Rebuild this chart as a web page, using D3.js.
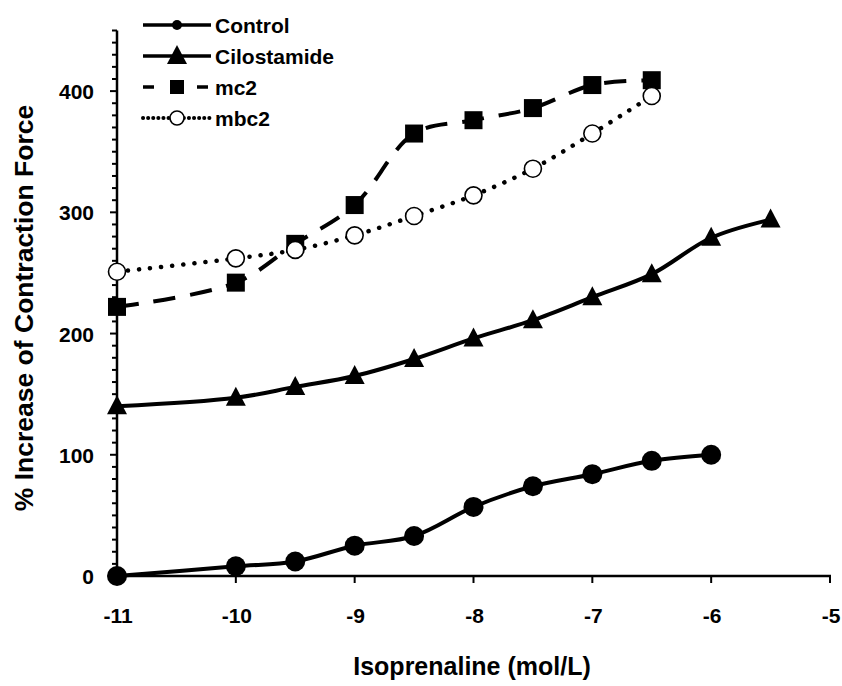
<!DOCTYPE html>
<html>
<head>
<meta charset="utf-8">
<script src="https://cdn.jsdelivr.net/npm/d3@7/dist/d3.min.js"></script>
<style>
  body { margin: 0; background: #fff; }
  text { font-family: "Liberation Sans", Arial, sans-serif; font-weight: bold; }
</style>
</head>
<body>
<div id="chart"></div>
<script>
var width = 842,
  height = 686;

// data
var xControl = [-11, -10, -9.5, -9, -8.5, -8, -7.5, -7, -6.5, -6];
var yControl = [0, 8, 12, 25, 33, 57, 74, 84, 95, 100];

var xCilo = [-11, -10, -9.5, -9, -8.5, -8, -7.5, -7, -6.5, -6, -5.5];
var yCilo = [140, 147, 156, 165, 179, 196, 211, 230, 249, 279, 294];

var xMc2 = [-11, -10, -9.5, -9, -8.5, -8, -7.5, -7, -6.5];
var yMc2 = [222, 242, 274, 306, 365, 376, 386, 405, 409];

var xMbc2 = [-11, -10, -9.5, -9, -8.5, -8, -7.5, -7, -6.5];
var yMbc2 = [251, 262, 269, 281, 297, 314, 336, 365, 396];

var seriesNames = ["Control", "Cilostamide", "mc2", "mbc2"];
var xTicks = [-11, -10, -9, -8, -7, -6, -5];
var yTicks = [0, 100, 200, 300, 400];

var series = [
  { name: seriesNames[0], xs: xControl, ys: yControl, marker: "circle", dash: null },
  { name: seriesNames[1], xs: xCilo, ys: yCilo, marker: "triangle", dash: null },
  { name: seriesNames[2], xs: xMc2, ys: yMc2, marker: "square", dash: "22,15" },
  { name: seriesNames[3], xs: xMbc2, ys: yMbc2, marker: "open", dash: "0.1,11" }
];

var svg = d3.select( "#chart" )
  .append( "svg" )
  .attr( "width", width )
  .attr( "height", height );

var x = d3.scaleLinear()
  .domain( [-11, -5] )
  .range( [117, 830] );

var y = d3.scaleLinear()
  .domain( [0, 450] )
  .range( [576, 30.5] );

// y axis with minor ticks every 10
var yAxisG = svg.append( "g" );
yAxisG.append( "line" )
  .attr( "x1", x(-11) ).attr( "x2", x(-11) )
  .attr( "y1", y(450) ).attr( "y2", y(0) )
  .attr( "stroke", "#000" ).attr( "stroke-width", 2.5 );
yAxisG.selectAll( ".minor" )
  .data( d3.range(0, 451, 10) )
  .enter()
  .append( "line" )
  .attr( "x1", x(-11) ).attr( "x2", function(d){ return d % 100 == 0 ? x(-11) - 7 : x(-11) - 5; } )
  .attr( "y1", function(d){ return y(d); } )
  .attr( "y2", function(d){ return y(d); } )
  .attr( "stroke", "#000" ).attr( "stroke-width", 2 );
yAxisG.selectAll( "text" )
  .data( yTicks )
  .enter()
  .append( "text" )
  .attr( "x", 94 )
  .attr( "y", function(d){ return y(d) + 8; } )
  .attr( "text-anchor", "end" )
  .attr( "font-size", 21 )
  .text( function(d){ return d; } );

// x axis
var xAxisG = svg.append( "g" );
xAxisG.append( "line" )
  .attr( "x1", x(-11) ).attr( "x2", x(-5) + 1 )
  .attr( "y1", y(0) ).attr( "y2", y(0) )
  .attr( "stroke", "#000" ).attr( "stroke-width", 2.5 );
xAxisG.selectAll( ".tick" )
  .data( xTicks )
  .enter()
  .append( "line" )
  .attr( "x1", function(d){ return x(d); } )
  .attr( "x2", function(d){ return x(d); } )
  .attr( "y1", y(0) ).attr( "y2", y(0) + 7 )
  .attr( "stroke", "#000" ).attr( "stroke-width", 2 );
xAxisG.selectAll( "text" )
  .data( xTicks )
  .enter()
  .append( "text" )
  .attr( "x", function(d){ return x(d) + 1; } )
  .attr( "y", 623 )
  .attr( "text-anchor", "middle" )
  .attr( "font-size", 21 )
  .text( function(d){ return d; } );

// axis titles
svg.append( "text" )
  .attr( "x", 472 ).attr( "y", 675 )
  .attr( "text-anchor", "middle" )
  .attr( "font-size", 25 )
  .text( "Isoprenaline (mol/L)" );
svg.append( "text" )
  .attr( "transform", "translate(33,308) rotate(-90)" )
  .attr( "text-anchor", "middle" )
  .attr( "font-size", 26.5 )
  .text( "% Increase of Contraction Force" );

var lineGen = d3.line()
  .x( function(d){ return x(d[0]); } )
  .y( function(d){ return y(d[1]); } )
  .curve( d3.curveCatmullRom.alpha(0.5) );

function drawMarker(g, type, cx, cy) {
  if (type == "circle") {
    g.append( "circle" ).attr( "cx", cx ).attr( "cy", cy ).attr( "r", 10 ).attr( "fill", "#000" );
  } else if (type == "open") {
    g.append( "circle" ).attr( "cx", cx ).attr( "cy", cy ).attr( "r", 8.5 )
      .attr( "fill", "#fff" ).attr( "stroke", "#000" ).attr( "stroke-width", 1.6 );
  } else if (type == "square") {
    g.append( "rect" ).attr( "x", cx - 9 ).attr( "y", cy - 9 ).attr( "width", 18 ).attr( "height", 18 ).attr( "fill", "#000" );
  } else if (type == "triangle") {
    g.append( "path" )
      .attr( "d", "M" + cx + "," + (cy - 11) + "L" + (cx + 10) + "," + (cy + 8) + "L" + (cx - 10) + "," + (cy + 8) + "Z" )
      .attr( "fill", "#000" );
  }
}

var plot = svg.append( "g" );
series.forEach( function(s){
  var pts = s.xs.map( function(v, i){ return [v, s.ys[i]]; } );
  var path = plot.append( "path" )
    .attr( "d", lineGen(pts) )
    .attr( "fill", "none" )
    .attr( "stroke", "#000" )
    .attr( "stroke-width", s.marker == "open" ? 4.5 : 4 );
  if (s.dash) path.attr( "stroke-dasharray", s.dash );
  if (s.marker == "open") path.attr( "stroke-linecap", "round" );
});
series.forEach( function(s){
  var g = plot.append( "g" );
  s.xs.forEach( function(v, i){ drawMarker(g, s.marker, x(v), y(s.ys[i])); } );
});

// legend
var legend = svg.append( "g" );
series.forEach( function(s, i){
  var ly = 25 + i * 31;
  var l = legend.append( "line" )
    .attr( "x1", 143 ).attr( "x2", 211 )
    .attr( "y1", ly ).attr( "y2", ly )
    .attr( "stroke", "#000" )
    .attr( "stroke-width", s.marker == "open" ? 4 : 3.5 );
  if (s.marker == "square") l.attr( "stroke-dasharray", "11,43,11" );
  if (s.marker == "open") l.attr( "stroke-dasharray", "0.1,5" ).attr( "stroke-linecap", "round" );
  var g = legend.append( "g" );
  if (s.marker == "circle") {
    g.append( "circle" ).attr( "cx", 177 ).attr( "cy", ly ).attr( "r", 5 ).attr( "fill", "#000" );
  } else if (s.marker == "open") {
    g.append( "circle" ).attr( "cx", 177 ).attr( "cy", ly ).attr( "r", 7 ).attr( "fill", "#fff" ).attr( "stroke", "#000" ).attr( "stroke-width", 1.6 );
  } else if (s.marker == "square") {
    g.append( "rect" ).attr( "x", 170 ).attr( "y", ly - 7 ).attr( "width", 14 ).attr( "height", 14 ).attr( "fill", "#000" );
  } else {
    drawMarker(g, s.marker, 177, ly);
  }
  legend.append( "text" )
    .attr( "x", 215 ).attr( "y", ly + 8 )
    .attr( "font-size", 21 )
    .text( s.name );
});
</script>
</body>
</html>
